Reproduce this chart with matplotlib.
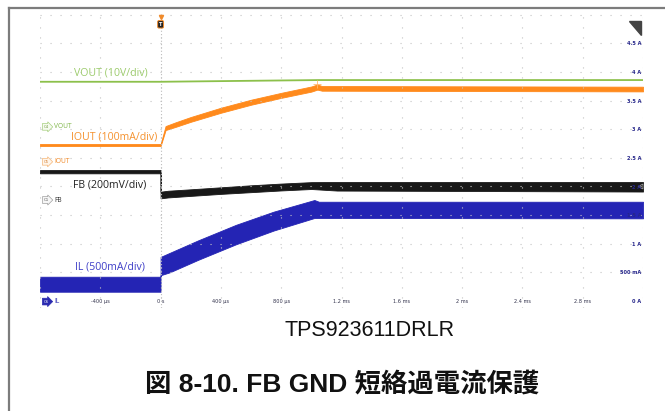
import matplotlib.pyplot as plt
import numpy as np
from matplotlib.patches import Polygon
from matplotlib.lines import Line2D

# --- data (time in ms, level in A on the right scale) ---
t_vout = [-0.8, 0.0, 1.05, 3.2]
vout = [3.827, 3.827, 3.857, 3.857]

t_iout = [-0.8, 0.0, 0.033, 0.1, 0.2, 0.4, 0.6, 0.8, 1.0, 1.04, 1.07, 3.2]
iout_mid = [2.723, 2.723, 3.019, 3.08, 3.17, 3.33, 3.47, 3.59, 3.70, 3.735, 3.712, 3.700]
iout_half = [0.018, 0.018, 0.035, 0.040, 0.042, 0.044, 0.044, 0.044, 0.045, 0.045, 0.041, 0.041]

t_fb = [-0.8, 0.0, 0.0, 0.05, 0.2, 0.4, 0.6, 0.8, 1.0, 1.17, 3.2]
fb_hi = [2.286, 2.286, 1.908, 1.925, 1.950, 1.985, 2.020, 2.050, 2.075, 2.077, 2.077]
fb_lo = [2.229, 2.229, 1.792, 1.808, 1.835, 1.870, 1.900, 1.930, 1.955, 1.928, 1.911]

t_il = [-0.8, 0.0, 0.0, 0.06, 0.25, 0.5, 0.75, 1.02, 1.05, 3.2]
il_hi = [0.424, 0.424, 0.77, 0.84, 1.06, 1.33, 1.56, 1.763, 1.733, 1.733]
il_lo = [0.162, 0.162, 0.45, 0.50, 0.72, 0.99, 1.23, 1.449, 1.45, 1.443]

time_ticks = [-0.4, 0.0, 0.4, 0.8, 1.2, 1.6, 2.0, 2.4, 2.8]
time_labels = ['-400 µs', '0 s', '400 µs', '800 µs', '1.2 ms', '1.6 ms', '2 ms', '2.4 ms', '2.8 ms']
amp_ticks = [0.0, 0.5, 1.0, 1.5, 2.0, 2.5, 3.0, 3.5, 4.0, 4.5]
amp_labels = ['0 A', '500 mA', '1 A', '1.5 A', '2 A', '2.5 A', '3 A', '3.5 A', '4 A', '4.5 A']

green = '#8cc04b'
orange = '#ff8a1c'
black = '#181818'
blue = '#2424b4'

W, H = 665, 411
fig = plt.figure(figsize=(W / 100, H / 100), dpi=100)

# grey frame (top and left edges only, like the cropped doc page)
fig.add_artist(Line2D([9 / W, 1], [1 - 8 / H, 1 - 8 / H], color='#7c7c7c', lw=1.6))
fig.add_artist(Line2D([9 / W, 9 / W], [0, 1 - 8 / H], color='#7c7c7c', lw=1.6))

ax = fig.add_axes([40 / W, 1 - 308 / H, 603 / W, 294 / H])
ax.set_xlim(-0.8, 3.2)
ax.set_ylim(-0.122, 5.01)
for s in ax.spines.values():
    s.set_visible(False)
ax.set_xticks(np.arange(-0.8, 3.21, 0.4))
ax.set_yticks(np.arange(0.5, 5.01, 0.5))
ax.tick_params(length=0, labelbottom=False, labelleft=False)
ax.grid(True, color='#c4c4c4', lw=0.8, linestyle=(0, (1, 8)))
ax.axvline(0, color='#bdbdbd', lw=0.8, linestyle=(0, (1, 2)))

# traces
ax.plot(t_vout, vout, color=green, lw=1.3)
mid = np.array(iout_mid)
half = np.array(iout_half)
ax.fill_between(t_iout, mid - half, mid + half, color=orange, lw=0.6, edgecolor=orange)
ax.fill_between(t_fb, fb_lo, fb_hi, color=black, lw=0.6, edgecolor=black)
ax.fill_between(t_il, il_lo, il_hi, color=blue, lw=0.6, edgecolor=blue)
ax.plot(1.04, 3.78, marker='+', color='#ffb870', ms=6, mew=0.6)

# trace names
lab_font = 'Open Sans'
ax.text(-0.577, 3.98, 'VOUT (10V/div)', color='#9ccb6c', fontsize=7.6, family=lab_font, va='center')
ax.text(-0.597, 2.86, 'IOUT (100mA/div)', color='#f5922e', fontsize=7.6, family=lab_font, va='center')
ax.text(-0.584, 2.02, 'FB (200mV/div)', color='#222222', fontsize=7.6, family=lab_font, va='center')
ax.text(-0.57, 0.593, 'IL (500mA/div)', color='#4040c8', fontsize=7.6, family=lab_font, va='center')


def tag(y, ch, name, ec, fc, tc, nc):
    ax.text(-0.775, y, ch, fontsize=2.8, color=tc, va='center', ha='left', family='DejaVu Sans',
            bbox=dict(boxstyle='rarrow,pad=0.35', fc=fc, ec=ec, lw=0.5))
    ax.text(-0.705, y, name, fontsize=4.8, color=nc, va='center', ha='left', family=lab_font)


tag(3.04, 'C4', 'VOUT', '#a8d080', '#f6fbef', '#6f9a40', '#7fb548')
tag(2.43, 'C5', 'IOUT', '#f5b77a', '#fff5ea', '#d27a2a', '#f08a2a')
tag(1.763, 'C1', 'FB', '#a0a0a0', '#f6f6f6', '#555555', '#333333')
tag(-0.01, 'C6', 'IL', '#2a2ab0', '#2a2ab0', 'white', '#2a2ab0')

# scale labels
for t, s in zip(time_ticks, time_labels):
    ax.text(t, -0.01, s, fontsize=3.6, color='#30304a', ha='center', va='center')
for a, s in zip(amp_ticks, amp_labels):
    ax.text(3.19, a - 0.01, s, fontsize=3.6, color='#26268a', ha='right', va='center', fontweight='bold')

# trigger marker and corner icon
ax.text(0.0, 4.83, 'T', fontsize=3.6, color='white', ha='center', va='center', fontweight='bold',
        bbox=dict(boxstyle='round,pad=0.25', fc='#222222', ec='#f08a2a', lw=0.7), clip_on=False)
ax.plot(0.0, 4.96, marker='v', color='#f08a2a', ms=3, clip_on=False)
ax.add_patch(Polygon([[3.104, 4.887], [3.19, 4.887], [3.19, 4.642]], closed=True,
                     fc='#444444', ec='#444444', clip_on=False))
ax.plot(3.18, 2.0, marker='<', color='#999999', ms=3.5, mfc='none', mew=0.6)

# captions
fig.text(370 / W, 1 - 330 / H, 'TPS923611DRLR', fontsize=15.5, family='Liberation Sans',
         ha='center', va='center', color='#111111')
fig.text(342 / W, 1 - 384 / H, '図 8-10. FB GND 短絡過電流保護', fontsize=19, fontweight='bold',
         family=['Liberation Sans', 'Noto Sans CJK JP'], ha='center', va='center', color='#111111')

fig.savefig('out.png', dpi=100)
